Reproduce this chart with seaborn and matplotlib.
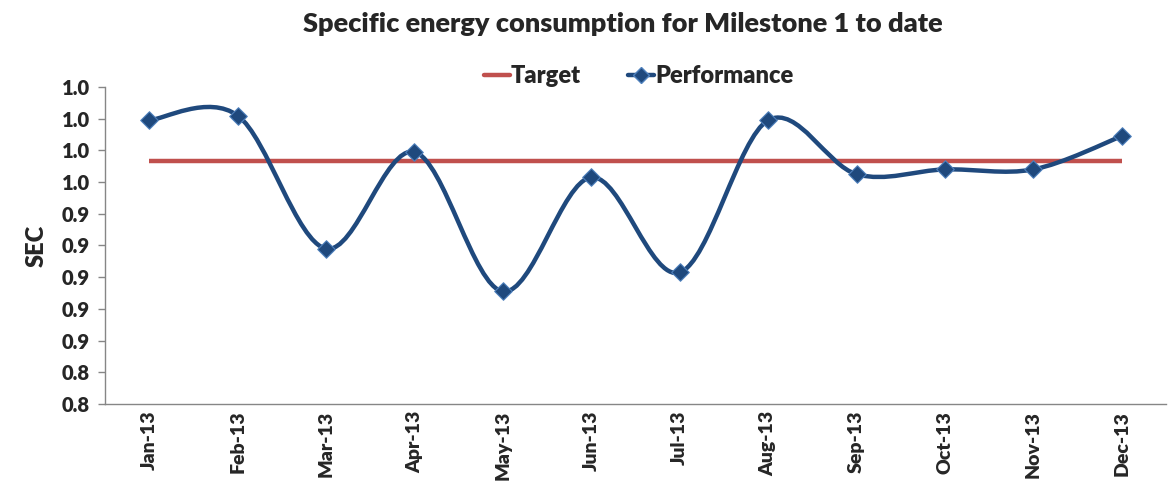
import matplotlib
matplotlib.use("Agg")
import matplotlib.pyplot as plt
from matplotlib.path import Path
from matplotlib.patches import PathPatch
from matplotlib.lines import Line2D
import pandas as pd
import seaborn as sns

# data
months = ["Jan-13", "Feb-13", "Mar-13", "Apr-13", "May-13", "Jun-13",
          "Jul-13", "Aug-13", "Sep-13", "Oct-13", "Nov-13", "Dec-13"]
performance = [0.999, 1.002, 0.918, 0.979, 0.891, 0.963,
               0.903, 0.999, 0.965, 0.968, 0.968, 0.989]
target = [0.973] * 12
yticks = [0.82, 0.84, 0.86, 0.88, 0.90, 0.92, 0.94, 0.96, 0.98, 1.00, 1.02]

RED = "#C0504D"
BLUE = "#1F497D"
GREY = "#868686"
WEIGHT = "heavy"


def smoothPath(xs, ys):
    """ excel-like smoothed line as cubic bezier segments """
    verts = [(xs[0], ys[0])]
    codes = [Path.MOVETO]
    n = len(xs)
    for i in range(n - 1):
        p0 = (xs[max(i - 1, 0)], ys[max(i - 1, 0)])
        p1 = (xs[i], ys[i])
        p2 = (xs[i + 1], ys[i + 1])
        p3 = (xs[min(i + 2, n - 1)], ys[min(i + 2, n - 1)])
        c1 = (p1[0] + (p2[0] - p0[0]) / 6, p1[1] + (p2[1] - p0[1]) / 6)
        c2 = (p2[0] - (p3[0] - p1[0]) / 6, p2[1] - (p3[1] - p1[1]) / 6)
        verts += [c1, c2, p2]
        codes += [Path.CURVE4] * 3
    return Path(verts, codes)


sns.set_style("white")
plt.rcParams['font.family'] = ['Lato', 'DejaVu Sans']

df = pd.DataFrame({"x": range(len(months)), "month": months,
                   "Performance": performance, "Target": target})

fig = plt.figure(figsize=(11.72, 4.83), dpi=100)
ax = fig.add_axes([0.0896, 0.1636, 0.9053, 0.6563])

sns.lineplot(data=df, x="x", y="Target", color=RED, linewidth=3.2,
             ax=ax, solid_capstyle="butt")
ax.add_patch(PathPatch(smoothPath(df.x.tolist(), df.Performance.tolist()),
                       facecolor="none", edgecolor=BLUE, linewidth=3.2, zorder=3))
sns.scatterplot(data=df, x="x", y="Performance", marker="D", s=80,
                color=BLUE, edgecolor="#4F81BD", linewidth=0.8, ax=ax, zorder=4)

ax.set_xlim(-0.5, len(months) - 0.5)
ax.set_ylim(yticks[0], yticks[-1])
ax.set_yticks(yticks)
ax.set_yticklabels(["%.1f" % v for v in yticks], fontsize=14.5, fontweight=WEIGHT)
ax.set_xticks(range(len(months)))
ax.set_xticklabels(months, rotation=90, fontsize=14, fontweight=WEIGHT)
ax.set_xticks([i - 0.5 for i in range(len(months) + 1)], minor=True)
ax.tick_params(axis="x", which="major", length=0, pad=5)
ax.tick_params(axis="x", which="minor", length=5, color=GREY, width=1, direction="out")
ax.tick_params(axis="y", length=5, color=GREY, width=1, direction="out", pad=6,
               left=True)

for s in ["top", "right"]:
    ax.spines[s].set_visible(False)
for s in ["left", "bottom"]:
    ax.spines[s].set_color(GREY)
    ax.spines[s].set_linewidth(1)

ax.set_xlabel("")
ax.set_ylabel("SEC", fontsize=17, fontweight=WEIGHT, labelpad=10)
fig.suptitle("Specific energy consumption for Milestone 1 to date",
             fontsize=19.5, fontweight=WEIGHT, x=0.531, y=0.975)

handles = [Line2D([], [], color=RED, linewidth=3.2),
           Line2D([], [], color=BLUE, linewidth=3.2, marker="D", markersize=8,
                  markeredgecolor="#4F81BD")]
leg = fig.legend(handles, ["Target", "Performance"], loc="center",
                 bbox_to_anchor=(0.545, 0.842), ncol=2, frameon=False,
                 handlelength=1.1, handletextpad=0.05, columnspacing=2.0,
                 prop={"size": 17, "weight": WEIGHT})

plt.savefig("out.png", dpi=100)
